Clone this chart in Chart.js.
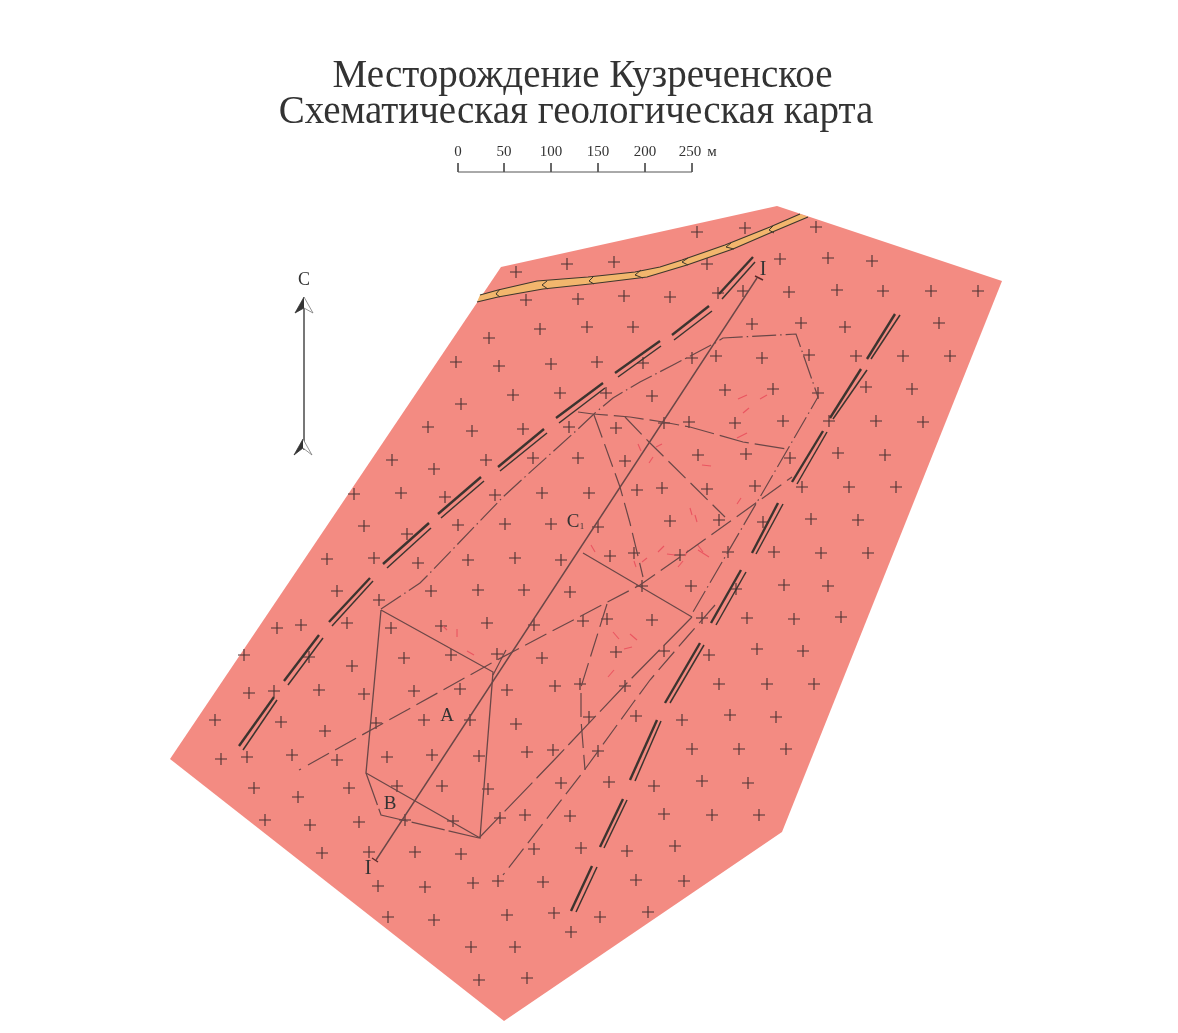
<!DOCTYPE html>
<html lang="ru">
<head>
<meta charset="utf-8">
<title>Месторождение Кузреченское</title>
<style>
    html, body { margin: 0; padding: 0; background: #ffffff; }
    canvas { display: block; }
</style>
<script src="https://cdn.jsdelivr.net/npm/chart.js@4"></script>
</head>
<body>
<canvas id="mapChart" width="1178" height="1033"></canvas>
<script>
// All map data is in image units, drawn through the x/y scales below
const titleLines = ["Месторождение Кузреченское", "Схематическая геологическая карта"];
const scaleBarLabels = ["0", "50", "100", "150", "200", "250"];
const scaleBarX = [458, 504, 551, 598, 645, 692];

const mapOutline = [[501, 267], [777, 206], [1002, 281], [782, 832], [504, 1021], [170, 759]];

const veinTop = [[480, 295], [498, 290], [537, 281], [588, 277], [635, 272], [660, 267], [682, 260], [725, 245], [770, 227], [800, 214]];
const veinBottom = [[808, 217], [770, 233], [733, 249], [687, 265], [647, 277], [590, 284], [543, 289], [498, 297], [477, 302]];
const veinCuts = [
    [[500, 289], [496, 294], [500, 297]],
    [[547, 281], [542, 285], [548, 289]],
    [[594, 276], [589, 281], [594, 284]],
    [[641, 270], [635, 275], [643, 278]],
    [[688, 258], [682, 262], [688, 265]],
    [[731, 243], [726, 247], [734, 249]],
    [[773, 226], [769, 230], [774, 233]]
];

// Double-line dykes: [x1, y1, x2, y2] thick, then thin
const leftDykeThick = [
    [239, 746, 274, 697], [284, 681, 319, 635], [329, 622, 370, 578], [383, 564, 429, 523], [438, 514, 481, 477],
    [498, 467, 544, 429], [556, 418, 603, 383], [615, 373, 660, 341], [672, 335, 709, 306], [719, 294, 753, 257]
];
const leftDykeThin = [
    [243, 750, 277, 700], [288, 685, 323, 638], [332, 626, 373, 581], [387, 568, 431, 528], [441, 518, 484, 481],
    [500, 471, 547, 433], [559, 423, 605, 388], [618, 377, 661, 346], [674, 340, 712, 311], [722, 299, 755, 262]
];
const rightDykeThick = [
    [895, 314, 867, 359], [861, 369, 830, 418], [823, 431, 792, 482], [778, 503, 752, 553], [741, 570, 711, 623],
    [700, 643, 665, 703], [657, 720, 630, 780], [623, 799, 600, 847], [592, 866, 571, 911]
];
const rightDykeThin = [
    [900, 315, 871, 359], [867, 370, 833, 419], [827, 432, 797, 484], [783, 504, 756, 554], [746, 572, 716, 625],
    [704, 645, 670, 703], [661, 721, 635, 781], [627, 800, 604, 848], [597, 867, 576, 912]
];

const sectionLine = [[757, 278], [376, 860]];
const sectionTicks = [[[755, 276], [763, 280]], [[372, 858], [378, 862]]];

const blockA = [[381, 610], [493, 672], [480, 838], [366, 773], [381, 610]];
const blockB = [[366, 773], [381, 815], [479, 838]];
const blockC = [[583, 553], [692, 617]];

const contourDashDot = [
    [381, 609], [420, 583], [428, 575], [503, 497], [527, 475], [577, 430], [595, 413], [613, 398], [640, 382],
    [673, 365], [717, 342], [723, 338], [796, 334], [818, 397], [760, 497], [693, 612]
];
const contourLower = [[692, 617], [627, 683], [557, 757], [479, 838]];
const faultParallel = [[715, 605], [687, 637], [650, 680], [633, 703], [583, 772], [503, 875]];
const faultLongDot = [[299, 770], [301, 769]];
const faultLong = [[308, 765], [497, 660], [640, 585], [690, 550], [735, 518], [792, 477]];
const faultUpper = [[578, 412], [593, 414], [630, 417], [663, 422], [690, 427], [743, 442], [787, 449]];
const faultBranch1 = [[594, 415], [620, 487], [630, 523], [643, 577]];
const faultBranch2 = [[625, 417], [650, 443], [725, 517]];
const faultBranch3 = [[607, 604], [581, 687], [581, 720], [585, 770]];
const innerDoubled = [[506, 650], [493, 675]];

const redDashes = [
    [738, 399, 747, 395], [760, 399, 767, 395], [743, 413, 749, 408], [737, 438, 747, 433], [638, 444, 641, 451],
    [656, 447, 662, 444], [649, 463, 653, 457], [702, 465, 711, 466], [737, 504, 741, 498], [690, 508, 692, 515],
    [695, 515, 697, 522], [591, 545, 595, 552], [658, 552, 664, 546], [667, 554, 675, 555], [685, 556, 688, 550],
    [697, 544, 703, 552], [698, 550, 709, 557], [634, 561, 636, 567], [642, 562, 647, 558], [678, 567, 683, 561],
    [443, 626, 447, 630], [457, 629, 457, 637], [467, 651, 474, 655], [613, 632, 619, 639], [630, 634, 637, 640],
    [624, 649, 632, 647], [608, 677, 614, 670]
];

// Granite "+" signs, row by row from the north
const crossRow1 = [[697, 232], [745, 228], [816, 227]];
const crossRow2 = [[516, 272], [567, 264], [614, 262], [707, 264], [780, 259], [828, 258], [872, 261]];
const crossRow3 = [[526, 300], [578, 299], [624, 296], [670, 297], [718, 293], [743, 291], [789, 292], [837, 290], [883, 291], [931, 291], [978, 291]];
const crossRow4 = [[489, 338], [540, 329], [587, 327], [633, 327], [752, 324], [801, 323], [845, 327], [939, 323]];
const crossRow5 = [[456, 362], [499, 366], [551, 364], [597, 362], [643, 363], [692, 358], [716, 356], [762, 358], [809, 355], [856, 356], [903, 356], [950, 356]];
const crossRow6 = [[461, 404], [513, 395], [560, 393], [606, 393], [652, 396], [725, 390], [773, 389], [818, 393], [866, 387], [912, 389]];
const crossRow7 = [[428, 427], [472, 431], [523, 429], [569, 427], [616, 428], [664, 423], [689, 422], [735, 423], [783, 421], [829, 421], [876, 421], [923, 422]];
const crossRow8 = [[392, 460], [434, 469], [486, 460], [533, 458], [578, 458], [625, 461], [698, 455], [746, 454], [790, 458], [838, 453], [885, 455]];
const crossRow9 = [[354, 494], [401, 493], [445, 497], [495, 495], [542, 493], [589, 493], [637, 490], [662, 488], [707, 489], [755, 486], [802, 487], [849, 487], [896, 487]];
const crossRow10 = [[364, 526], [407, 534], [458, 525], [505, 524], [551, 524], [598, 527], [670, 521], [719, 520], [763, 522], [811, 519], [858, 520]];
const crossRow11 = [[327, 559], [374, 558], [418, 563], [468, 560], [515, 558], [561, 560], [610, 556], [634, 553], [680, 555], [728, 552], [774, 552], [821, 553], [868, 553]];
const crossRow12 = [[337, 591], [379, 600], [431, 591], [478, 590], [524, 590], [570, 592], [642, 586], [691, 586], [736, 589], [784, 585], [828, 586]];
const crossRow13 = [[277, 628], [301, 625], [347, 623], [391, 628], [441, 626], [487, 623], [534, 625], [583, 621], [607, 619], [652, 620], [702, 618], [747, 618], [794, 619], [841, 617]];
const crossRow14 = [[244, 655], [309, 657], [352, 666], [404, 658], [451, 655], [497, 654], [542, 658], [616, 652], [664, 651], [709, 655], [757, 649], [803, 651]];
const crossRow15 = [[249, 693], [274, 691], [319, 690], [364, 694], [414, 691], [460, 689], [507, 690], [555, 686], [580, 684], [625, 686], [719, 684], [767, 684], [814, 684]];
const crossRow16 = [[215, 720], [281, 722], [325, 731], [376, 723], [424, 720], [470, 720], [516, 724], [589, 717], [636, 716], [682, 720], [730, 715], [776, 717]];
const crossRow17 = [[221, 759], [247, 757], [292, 755], [337, 760], [387, 757], [432, 755], [479, 756], [527, 752], [553, 750], [598, 751], [692, 749], [739, 749], [786, 749]];
const crossRow18 = [[254, 788], [298, 797], [349, 788], [397, 786], [442, 786], [488, 789], [561, 783], [609, 782], [654, 786], [702, 781], [748, 783]];
const crossRow19 = [[265, 820], [310, 825], [359, 822], [405, 820], [453, 821], [500, 818], [525, 815], [570, 816], [664, 814], [712, 815], [759, 815]];
const crossRow20 = [[322, 853], [369, 852], [415, 852], [461, 854], [534, 849], [581, 848], [627, 851], [675, 846]];
const crossRow21 = [[378, 886], [425, 887], [473, 883], [498, 881], [543, 882], [636, 880], [684, 881]];
const crossRow22 = [[388, 917], [434, 920], [507, 915], [554, 913], [600, 917], [648, 912]];
const crossRow23 = [[571, 932], [471, 947], [515, 947]];
const crossRow24 = [[479, 980], [527, 978]];
const crossRows = [
    crossRow1, crossRow2, crossRow3, crossRow4, crossRow5, crossRow6, crossRow7, crossRow8, crossRow9, crossRow10, crossRow11, crossRow12,
    crossRow13, crossRow14, crossRow15, crossRow16, crossRow17, crossRow18, crossRow19, crossRow20, crossRow21, crossRow22, crossRow23, crossRow24
];

// North arrow
const northShaft = [[304, 300], [304, 450]];
const northTopLeft = [[304, 297], [295, 313], [304, 308]];
const northTopRight = [[304, 297], [313, 313], [304, 308]];
const northBottomLeft = [[303, 439], [294, 455], [303, 448]];
const northBottomRight = [[303, 439], [312, 455], [303, 448]];

const LINE_COLOR = "#6a4747";
const DARK_COLOR = "#3c342f";
const VEIN_LINE = "#3e372c";
const LONG_DASH = [24, 7];
const DASH_DOT = [24, 4, 1.5, 4];

const datasets = [];

function toPoints(pairs) {
    return pairs.map(p => ({ x: p[0], y: p[1] }));
}

// Each new dataset goes on top of the previous ones
function addLine(pairs, color, width, dash) {
    datasets.push({
        data: toPoints(pairs),
        showLine: true,
        pointRadius: 0,
        borderColor: color,
        borderWidth: width,
        borderDash: dash || [],
        tension: 0,
        fill: false,
        order: -datasets.length
    });
}

function addShape(pairs, fillColor, lineColor, width) {
    datasets.push({
        data: toPoints(pairs),
        showLine: true,
        pointRadius: 0,
        borderColor: lineColor,
        borderWidth: width,
        backgroundColor: fillColor,
        tension: 0,
        fill: "shape",
        order: -datasets.length
    });
}

function addSegments(segments, color, width) {
    segments.forEach(s => addLine([[s[0], s[1]], [s[2], s[3]]], color, width));
}

addShape(mapOutline, "#f38b82", "#f38b82", 0);

crossRows.forEach(row => {
    datasets.push({
        data: toPoints(row),
        showLine: false,
        pointStyle: "cross",
        pointRadius: 6,
        pointBorderColor: "#4a3232",
        pointBorderWidth: 1.1,
        order: -datasets.length
    });
});

// Vein ends stay open, only the long sides get an outline
addShape(veinTop.concat(veinBottom), "#f2b66d", "rgba(0,0,0,0)", 0);
addLine(veinTop, VEIN_LINE, 1.2);
addLine(veinBottom, VEIN_LINE, 1.2);
veinCuts.forEach(cut => addLine(cut, VEIN_LINE, 1));

addSegments(leftDykeThick, DARK_COLOR, 2.4);
addSegments(leftDykeThin, DARK_COLOR, 1.5);
addSegments(rightDykeThick, DARK_COLOR, 2.4);
addSegments(rightDykeThin, DARK_COLOR, 1.5);

addSegments(redDashes, "#ea5560", 1.1);

addLine(blockA, LINE_COLOR, 1.3);
addLine(blockB, LINE_COLOR, 1.2, [34, 4]);
addLine(blockC, LINE_COLOR, 1.2);
addLine(contourDashDot, LINE_COLOR, 1.2, DASH_DOT);
addLine(contourLower, LINE_COLOR, 1.2, [40, 6]);
addLine(faultParallel, LINE_COLOR, 1.2, LONG_DASH);
addLine(faultLongDot, LINE_COLOR, 1.2);
addLine(faultLong, LINE_COLOR, 1.2, LONG_DASH);
addLine(faultUpper, LINE_COLOR, 1.2, [30, 6]);
addLine(faultBranch1, LINE_COLOR, 1.2, LONG_DASH);
addLine(faultBranch2, LINE_COLOR, 1.2, LONG_DASH);
addLine(faultBranch3, LINE_COLOR, 1.2, LONG_DASH);
addLine(innerDoubled, LINE_COLOR, 1.2);

addLine(sectionLine, LINE_COLOR, 1.4);
sectionTicks.forEach(t => addLine(t, "#5a2a2a", 1.4));

// Scale bar, ticks rise from the base line
addLine([[scaleBarX[0], 172], [scaleBarX[scaleBarX.length - 1], 172]], "#555555", 1);
scaleBarX.forEach(x => addLine([[x, 163], [x, 172]], "#555555", 1));

// North arrow
addLine(northShaft, "#777777", 2);
addShape(northTopRight, "#ffffff", "#777777", 0.8);
addShape(northTopLeft, "#333333", "#333333", 0.8);
addShape(northBottomRight, "#ffffff", "#777777", 0.8);
addShape(northBottomLeft, "#333333", "#333333", 0.8);

// Text is placed through the scales as well
const mapLabels = [
    { text: titleLines[0], x: 582.5, y: 77, size: 39 },
    { text: titleLines[1], x: 576, y: 113, size: 39 },
    { text: "м", x: 712, y: 152, size: 15 },
    { text: "С", x: 304, y: 280, size: 18 },
    { text: "I", x: 763, y: 270, size: 20 },
    { text: "I", x: 368, y: 869, size: 20 },
    { text: "С", x: 573, y: 522, size: 19 },
    { text: "1", x: 582, y: 527, size: 9 },
    { text: "А", x: 447, y: 716, size: 19 },
    { text: "В", x: 390, y: 804, size: 19 }
];
scaleBarLabels.forEach((text, i) => {
    mapLabels.push({ text: text, x: scaleBarX[i] - (i === 5 ? 2 : 0), y: 152, size: 15 });
});

const labelPlugin = {
    id: "mapLabels",
    afterDatasetsDraw(chart) {
        const { ctx, scales } = chart;
        ctx.save();
        ctx.fillStyle = "#333333";
        ctx.textAlign = "center";
        ctx.textBaseline = "middle";
        mapLabels.forEach(l => {
            ctx.font = l.size + "px 'Liberation Serif'";
            ctx.fillText(l.text, scales.x.getPixelForValue(l.x), scales.y.getPixelForValue(l.y));
        });
        ctx.restore();
    }
};

new Chart(document.getElementById("mapChart"), {
    type: "scatter",
    data: { datasets: datasets },
    options: {
        responsive: false,
        animation: false,
        devicePixelRatio: 1,
        layout: { padding: 0, autoPadding: false },
        plugins: { legend: { display: false }, tooltip: { enabled: false } },
        scales: {
            x: { type: "linear", min: 0, max: 1178, display: false },
            y: { type: "linear", min: 0, max: 1033, reverse: true, display: false }
        }
    },
    plugins: [labelPlugin]
});
</script>
</body>
</html>
